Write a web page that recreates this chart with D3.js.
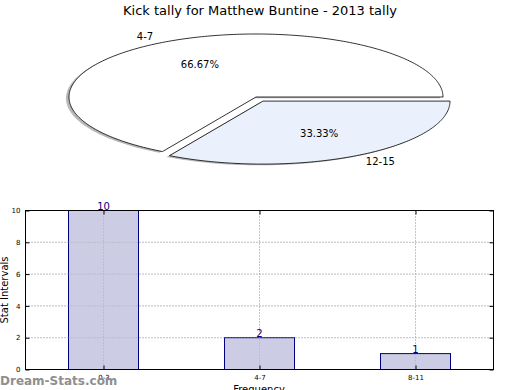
<!DOCTYPE html>
<html><head><meta charset="utf-8">
<script src="https://cdn.jsdelivr.net/npm/d3@7"></script>
<style>body{margin:0;background:#fff}svg{display:block}text{font-family:"DejaVu Sans",sans-serif}</style>
</head><body>
<svg id="c" width="520" height="390"></svg>
<script>
const title = "Kick tally for Matthew Buntine - 2013 tally";
const pieLabels = ["4-7", "12-15"];
const pieValues = [2, 1];
const pieColors = ["#ffffff", "#eaf0fc"];
const barCategories = ["0-3", "4-7", "8-11"];
const barValues = [10, 2, 1];
const yTicks = [0, 2, 4, 6, 8, 10];

const svg = d3.select("#c");
svg.append("text").attr("x", 260).attr("y", 15).attr("text-anchor", "middle")
  .attr("font-size", 13).text(title);

// Pie (ellipse via scale)
const cx = 256, cy = 97, rx = 187, ry = 63, explode = [0, 0.075];
const total = d3.sum(pieValues);
const angles = [];
let acc = 0;
pieValues.forEach((v, i) => { angles.push([acc / total * 360, (acc + v) / total * 360]); acc += v; });
function wedgePath(a0, a1, ox, oy) {
  const pts = [[ox, oy]];
  for (let a = a0; a <= a1 + 1e-9; a += 1) {
    const r = a * Math.PI / 180;
    pts.push([ox + Math.cos(r), oy - Math.sin(r)]);
  }
  const r1 = a1 * Math.PI / 180;
  pts.push([ox + Math.cos(r1), oy - Math.sin(r1)]);
  return d3.line().x(d => cx + d[0] * rx).y(d => cy + d[1] * ry)(pts) + "Z";
}
const pieG = svg.append("g");
const wedges = angles.map((a, i) => {
  const mid = (a[0] + a[1]) / 2 * Math.PI / 180;
  return { a, i, ox: explode[i] * Math.cos(mid), oy: -explode[i] * Math.sin(mid), mid };
});
// shadows
wedges.forEach(w => {
  pieG.append("path").attr("d", wedgePath(w.a[0], w.a[1], w.ox - 0.016, w.oy + 0.02))
    .attr("fill", "#4d4d4d").attr("opacity", 0.4);
});
wedges.forEach(w => {
  pieG.append("path").attr("d", wedgePath(w.a[0], w.a[1], w.ox, w.oy))
    .attr("fill", pieColors[w.i]).attr("stroke", "#000").attr("stroke-width", 0.8);
});
wedges.forEach(w => {
  const c = Math.cos(w.mid), s = Math.sin(w.mid);
  const lx = cx + (w.ox + 1.1 * c) * rx, ly = cy + (w.oy - 1.1 * s) * ry;
  pieG.append("text").attr("x", lx).attr("y", ly).attr("dy", "0.35em")
    .attr("text-anchor", c < 0 ? "end" : "start").attr("font-size", 10).text(pieLabels[w.i]);
  const px = cx + (w.ox + 0.6 * c) * rx, py = cy + (w.oy - 0.6 * s) * ry;
  pieG.append("text").attr("x", px).attr("y", py).attr("dy", "0.35em")
    .attr("text-anchor", "middle").attr("font-size", 10)
    .text((pieValues[w.i] / total * 100).toFixed(2) + "%");
});

// Bar chart
const L = 25.5, R = 493.5, T = 210.5, B = 369.5;
const x = d3.scalePoint().domain(barCategories).range([L, R]).padding(0.5);
const y = d3.scaleLinear().domain([0, 10]).range([B, T]);
const bw = x.step() * 0.45;
const g = svg.append("g");
// grid
g.selectAll(".gy").data(yTicks.slice(1, -1)).enter().append("line")
  .attr("x1", L).attr("x2", R).attr("y1", d => y(d)).attr("y2", d => y(d))
  .attr("stroke", "#b0b0b0").attr("stroke-dasharray", "1,2").attr("stroke-width", 1);
g.selectAll(".gx").data(barCategories).enter().append("line")
  .attr("x1", d => x(d)).attr("x2", d => x(d)).attr("y1", T).attr("y2", B)
  .attr("stroke", "#b0b0b0").attr("stroke-dasharray", "1,2").attr("stroke-width", 1);
// bars
g.selectAll(".bar").data(barValues).enter().append("rect")
  .attr("x", (d, i) => Math.round(x(barCategories[i]) - bw / 2) + 0.5).attr("width", Math.round(bw))
  .attr("y", d => y(d)).attr("height", d => B - y(d))
  .attr("fill", "#ccccE5").attr("stroke", "#000080").attr("stroke-width", 1);
// grid over bars
g.selectAll(".gy2").data(yTicks.slice(1, -1)).enter().append("line")
  .attr("x1", L).attr("x2", R).attr("y1", d => y(d)).attr("y2", d => y(d))
  .attr("stroke", "#a0a0a0").attr("stroke-dasharray", "1,2").attr("stroke-width", 1).attr("opacity", 0.7);
g.selectAll(".gx2").data(barCategories).enter().append("line")
  .attr("x1", d => x(d)).attr("x2", d => x(d)).attr("y1", T).attr("y2", B)
  .attr("stroke", "#a0a0a0").attr("stroke-dasharray", "1,2").attr("stroke-width", 1).attr("opacity", 0.7);
// value labels
g.selectAll(".vl").data(barValues).enter().append("text")
  .attr("x", (d, i) => x(barCategories[i])).attr("y", d => y(d) - 1)
  .attr("text-anchor", "middle").attr("font-size", 10).attr("fill", "#000080").text(d => d);
// frame
g.append("rect").attr("x", L).attr("y", T).attr("width", R - L).attr("height", B - T)
  .attr("fill", "none").attr("stroke", "#000").attr("stroke-width", 1);
// axes
const yAxis = d3.axisLeft(y).tickValues(yTicks).tickSize(-4).tickPadding(5);
const ya = g.append("g").attr("transform", `translate(${L},0)`).call(yAxis);
ya.select(".domain").remove();
ya.selectAll("text").attr("font-size", 7).attr("font-family", "DejaVu Sans");
const yr = g.append("g").attr("transform", `translate(${R},0)`).call(d3.axisRight(y).tickValues(yTicks).tickSize(-4).tickFormat(""));
yr.select(".domain").remove();
const xAxis = d3.axisBottom(x).tickSize(-4).tickPadding(6);
const xa = g.append("g").attr("transform", `translate(0,${B})`).call(xAxis);
xa.select(".domain").remove();
xa.selectAll("text").attr("font-size", 7).attr("font-family", "DejaVu Sans");
const xt = g.append("g").attr("transform", `translate(0,${T})`).call(d3.axisTop(x).tickSize(-4).tickFormat(""));
xt.select(".domain").remove();
svg.append("text").attr("transform", "translate(8,290) rotate(-90)").attr("text-anchor", "middle")
  .attr("font-size", 10).text("Stat Intervals");
svg.append("text").attr("x", 259).attr("y", 393).attr("text-anchor", "middle")
  .attr("font-size", 10).text("Frequency");
svg.append("text").attr("x", 0).attr("y", 385).attr("font-size", 12)
  .attr("fill", "#8f8f8f").attr("font-family", "Open Sans, DejaVu Sans").attr("font-weight", "600").text("Dream-Stats.com");
</script>
</body></html>
